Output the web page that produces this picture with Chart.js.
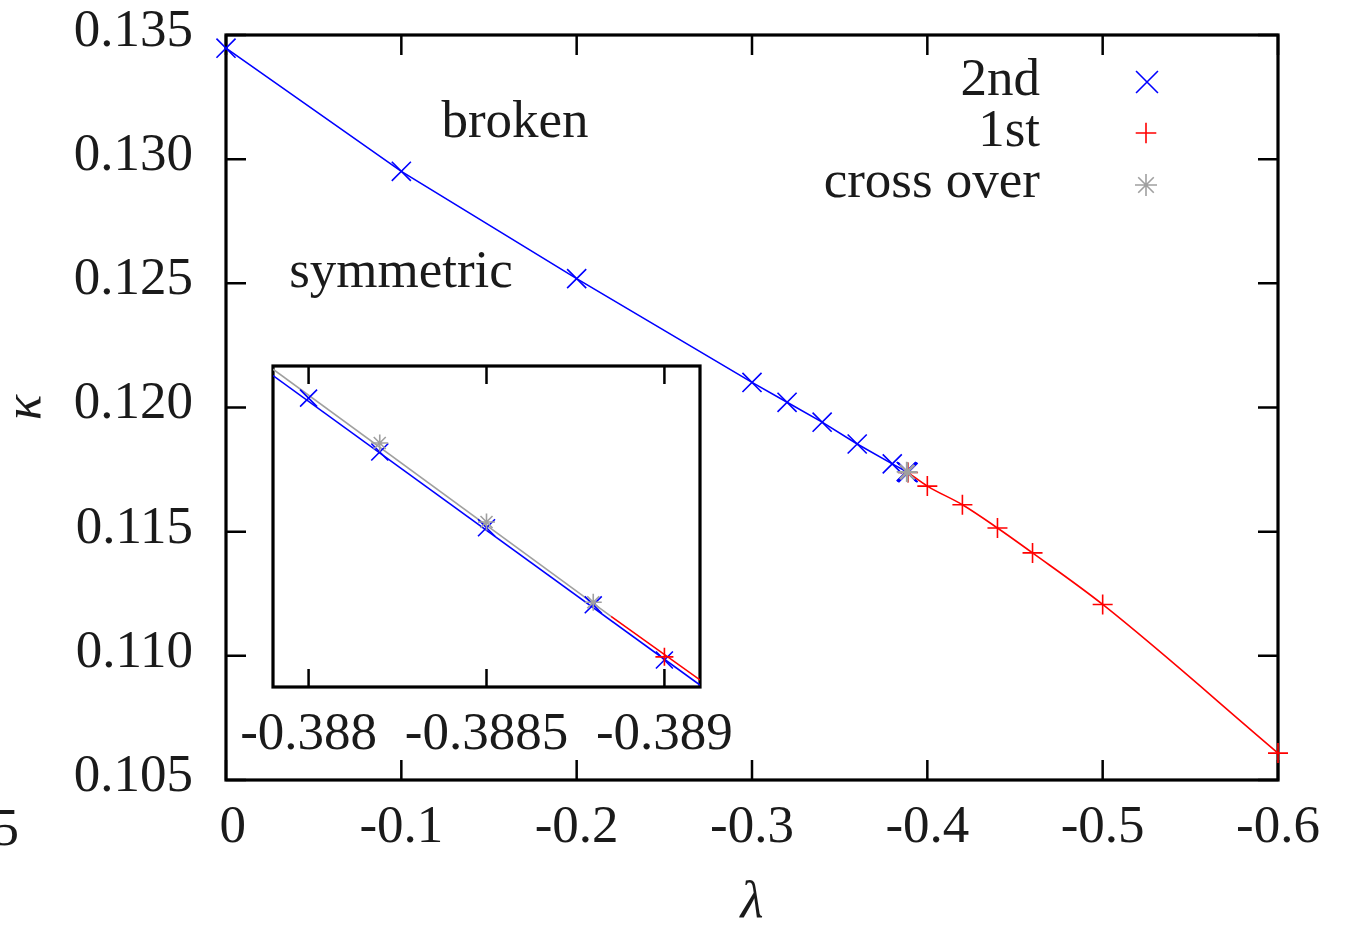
<!DOCTYPE html>
<html><head><meta charset="utf-8">
<script src="https://cdn.jsdelivr.net/npm/chart.js@4/dist/chart.umd.min.js"></script>
<style>
html,body{margin:0;padding:0;background:#fff;}
#wrap{position:relative;width:1356px;height:927px;overflow:hidden;background:#fff;}
.box{position:absolute;}
</style></head><body>
<div id="wrap">
  <div class="box" style="left:0;top:0;width:1356px;height:927px"><canvas id="main"></canvas></div>
  <div class="box" style="left:200px;top:340px;width:560px;height:440px"><canvas id="inset"></canvas></div>
</div>
<script>
// ---------- data ----------
const lambda2nd = [0, -0.1, -0.2, -0.3, -0.32, -0.34, -0.36, -0.38, -0.388, -0.3882, -0.3885, -0.3888, -0.389];
const kappa2nd  = [0.13447, 0.12951, 0.12519, 0.12101, 0.12021, 0.11941, 0.11853, 0.11773, 0.117421, 0.1174126, 0.1174008, 0.1173888, 0.1173802];
const lambda1st = [-0.389, -0.4, -0.42, -0.44, -0.46, -0.5, -0.6];
const kappa1st  = [0.1173807, 0.116835, 0.116084, 0.115149, 0.114145, 0.112068, 0.106084];
const lambdaCross = [-0.3882, -0.3885, -0.3888];
const kappaCross  = [0.117414, 0.1174017, 0.1173892];
// fit lines seen in the inset
const fitBlueLambda = [-0.3879, -0.3891];
const fitBlueKappa  = [0.1174245, 0.1173763];
const fitGrayLambda = [-0.3879, -0.38885];
const fitGrayKappa  = [0.1174255, 0.117387];
const fitRedLambda  = [-0.38885, -0.3891];
const fitRedKappa   = [0.117387, 0.1173771];
// ticks
const xTickValues = [0, -0.1, -0.2, -0.3, -0.4, -0.5, -0.6];
const xTickLabels = [' 0', '-0.1', '-0.2', '-0.3', '-0.4', '-0.5', '-0.6'];
const yTickValues = [0.105, 0.110, 0.115, 0.120, 0.125, 0.130, 0.135];
const yTickLabels = ['0.105', '0.110', '0.115', '0.120', '0.125', '0.130', '0.135'];
const insetTickValues = [-0.388, -0.3885, -0.389];
const insetTickLabels = ['-0.388', '-0.3885', '-0.389'];
const seriesNames = ['2nd', '1st', 'cross over'];

// ---------- styles ----------
const BLUE = '#0000ff', RED = '#ff0000', GRAY = '#a0a0a0', INK = '#1a1a1a';
const SERIF = "'Liberation Serif','DejaVu Serif','Times New Roman',serif";
const pts = (xs, ys) => xs.map((x, i) => ({x: x, y: ys[i]}));
const lookup = (vals, labels) => v => { const i = vals.findIndex(t => Math.abs(t - v) < 1e-9); return i < 0 ? '' : labels[i]; };
const noPad = s => { s.paddingTop = 0; s.paddingBottom = 0; s.paddingLeft = 0; s.paddingRight = 0; };

function drawMarker(ctx, style, x, y, r, color, lw) {
  ctx.save(); ctx.strokeStyle = color; ctx.lineWidth = lw; ctx.beginPath();
  const d = r * Math.SQRT1_2;
  if (style === 'cross' || style === 'star') { ctx.moveTo(x - r, y); ctx.lineTo(x + r, y); ctx.moveTo(x, y - r); ctx.lineTo(x, y + r); }
  if (style === 'crossRot' || style === 'star') { ctx.moveTo(x - d, y - d); ctx.lineTo(x + d, y + d); ctx.moveTo(x - d, y + d); ctx.lineTo(x + d, y - d); }
  ctx.stroke(); ctx.restore();
}

function framePlugin(tickVX, tickVY, tickLen, drawY) {
  return {
    id: 'frame',
    beforeDatasetsDraw(chart) {
      const {ctx, chartArea: a, scales} = chart;
      ctx.save();
      ctx.strokeStyle = '#000'; ctx.lineWidth = 2.5; ctx.beginPath();
      tickVX.forEach(v => { const p = scales.x.getPixelForValue(v);
        ctx.moveTo(p, a.bottom); ctx.lineTo(p, a.bottom - tickLen);
        ctx.moveTo(p, a.top); ctx.lineTo(p, a.top + tickLen); });
      if (drawY) tickVY.forEach(v => { const p = scales.y.getPixelForValue(v);
        ctx.moveTo(a.left, p); ctx.lineTo(a.left + tickLen, p);
        ctx.moveTo(a.right, p); ctx.lineTo(a.right - tickLen, p); });
      ctx.stroke();
      ctx.lineWidth = 3.2;
      ctx.strokeRect(a.left, a.top, a.right - a.left, a.bottom - a.top);
      ctx.restore();
    }
  };
}

const textPlugin = {
  id: 'texts',
  afterDraw(chart) {
    const ctx = chart.ctx;
    ctx.save();
    ctx.fillStyle = INK; ctx.font = '53px ' + SERIF; ctx.textBaseline = 'alphabetic';
    ctx.textAlign = 'center';
    ctx.fillText('broken', 515, 137);
    ctx.fillText('symmetric', 401, 287);
    ctx.textAlign = 'right';
    ctx.fillText('5', 19, 845);
    ctx.fillText(seriesNames[0], 1040, 95);
    ctx.fillText(seriesNames[1], 1040, 146);
    ctx.fillText(seriesNames[2], 1040, 197);
    ctx.restore();
    drawMarker(ctx, 'crossRot', 1147, 82, 15.5, BLUE, 1.6);
    drawMarker(ctx, 'cross', 1146, 133, 10.3, RED, 1.6);
    drawMarker(ctx, 'star', 1146, 185, 11, GRAY, 1.6);
  }
};

const tickFont = {family: SERIF, size: 53};

// ---------- main chart ----------
new Chart(document.getElementById('main'), {
  type: 'scatter',
  data: { datasets: [
    { label: seriesNames[2], data: pts(lambdaCross, kappaCross), order: 0, showLine: true, clip: false,
      borderColor: GRAY, backgroundColor: GRAY, borderWidth: 1.6,
      pointStyle: 'star', pointRadius: 10, pointBorderWidth: 1.6, pointBorderColor: GRAY },
    { label: seriesNames[1], data: pts(lambda1st, kappa1st), order: 1, showLine: true, clip: false,
      cubicInterpolationMode: 'monotone',
      borderColor: RED, backgroundColor: RED, borderWidth: 1.6,
      pointStyle: 'cross', pointRadius: 10, pointBorderWidth: 1.6, pointBorderColor: RED },
    { label: seriesNames[0], data: pts(lambda2nd, kappa2nd), order: 2, showLine: true, clip: false,
      borderColor: BLUE, backgroundColor: BLUE, borderWidth: 1.6,
      pointStyle: 'crossRot', pointRadius: 13.5, pointBorderWidth: 1.6, pointBorderColor: BLUE }
  ]},
  options: {
    responsive: true, maintainAspectRatio: false, animation: false, devicePixelRatio: 1,
    layout: { padding: { top: 35, right: 78, left: 0, bottom: 0 } },
    plugins: { legend: { display: false }, tooltip: { enabled: false } },
    scales: {
      x: { type: 'linear', min: -0.6, max: 0, reverse: true,
        grid: { display: false, drawTicks: false }, border: { display: false },
        afterBuildTicks: s => { s.ticks = xTickValues.map(v => ({value: v})); },
        afterFit: s => { s.height = 147; noPad(s); },
        ticks: { padding: 16, color: INK, font: tickFont, maxRotation: 0, autoSkip: false,
          callback: lookup(xTickValues, xTickLabels) },
        title: { display: true, text: 'λ', color: INK, padding: 0,
          font: { family: SERIF, size: 53, style: 'italic', lineHeight: 0.9 } } },
      y: { type: 'linear', min: 0.105, max: 0.135,
        grid: { display: false, drawTicks: false }, border: { display: false },
        afterBuildTicks: s => { s.ticks = yTickValues.map(v => ({value: v})); },
        afterFit: s => { s.width = 226; noPad(s); },
        ticks: { padding: 33, labelOffset: -3, color: INK, font: tickFont, autoSkip: false,
          callback: lookup(yTickValues, yTickLabels) },
        title: { display: true, text: 'κ', color: INK, padding: 0,
          font: { family: SERIF, size: 53, style: 'italic', lineHeight: 1.0 } } }
    }
  },
  plugins: [framePlugin(xTickValues, yTickValues, 20, true), textPlugin]
});

// ---------- inset ----------
new Chart(document.getElementById('inset'), {
  type: 'scatter',
  data: { datasets: [
    { label: 'fit 1st', data: pts(fitRedLambda, fitRedKappa), order: 5, showLine: true, pointRadius: 0,
      borderColor: RED, borderWidth: 1.6 },
    { label: 'fit cross over', data: pts(fitGrayLambda, fitGrayKappa), order: 4, showLine: true, pointRadius: 0,
      borderColor: GRAY, borderWidth: 1.6 },
    { label: 'fit 2nd', data: pts(fitBlueLambda, fitBlueKappa), order: 3, showLine: true, pointRadius: 0,
      borderColor: BLUE, borderWidth: 1.6 },
    { label: seriesNames[2], data: pts(lambdaCross, kappaCross), order: 0, showLine: false,
      pointStyle: 'star', pointRadius: 8.5, pointBorderWidth: 1.6, pointBorderColor: GRAY, borderColor: GRAY },
    { label: seriesNames[1], data: pts(lambda1st, kappa1st), order: 1, showLine: false,
      pointStyle: 'cross', pointRadius: 9, pointBorderWidth: 1.6, pointBorderColor: RED, borderColor: RED },
    { label: seriesNames[0], data: pts(lambda2nd, kappa2nd), order: 2, showLine: false,
      pointStyle: 'crossRot', pointRadius: 12, pointBorderWidth: 1.6, pointBorderColor: BLUE, borderColor: BLUE }
  ]},
  options: {
    responsive: true, maintainAspectRatio: false, animation: false, devicePixelRatio: 1,
    layout: { padding: { top: 26, right: 60, left: 73, bottom: 0 } },
    plugins: { legend: { display: false }, tooltip: { enabled: false } },
    scales: {
      x: { type: 'linear', min: -0.3891, max: -0.3879, reverse: true,
        grid: { display: false, drawTicks: false }, border: { display: false },
        afterBuildTicks: s => { s.ticks = insetTickValues.map(v => ({value: v})); },
        afterFit: s => { s.height = 93; noPad(s); },
        ticks: { padding: 16, color: INK, font: tickFont, maxRotation: 0, autoSkip: false,
          callback: lookup(insetTickValues, insetTickLabels) } },
      y: { type: 'linear', display: false, min: 0.117376, max: 0.117426 }
    }
  },
  plugins: [framePlugin(insetTickValues, [], 18, false)]
});
</script>
</body></html>
